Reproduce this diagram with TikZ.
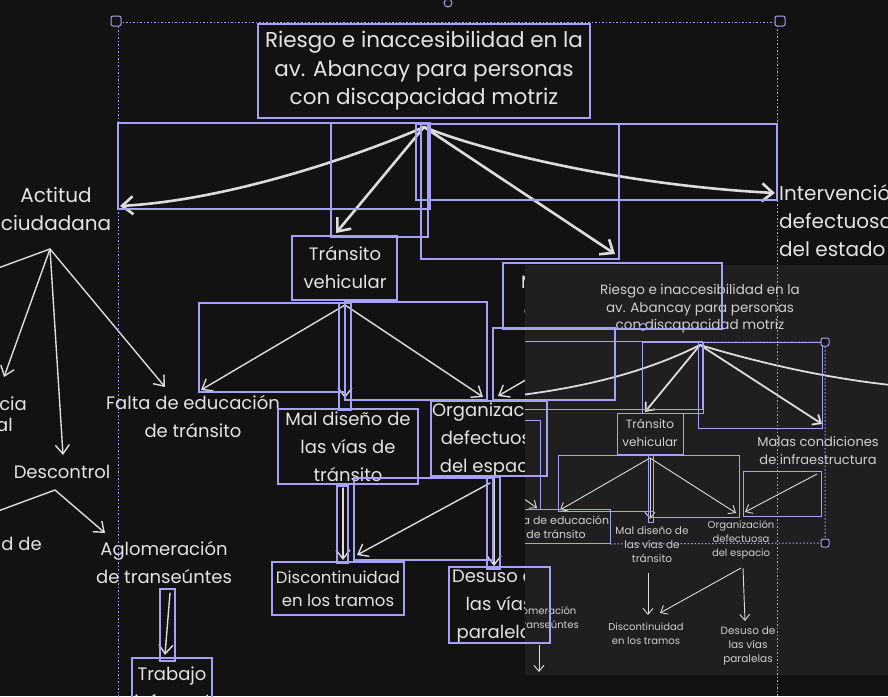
\documentclass[tikz,border=0pt]{standalone}
\usepackage{fontspec}
\setmainfont{Poppins}
\usetikzlibrary{arrows.meta}
\definecolor{bgc}{HTML}{121212}
\definecolor{panelc}{HTML}{1F1F1F}
\definecolor{fgc}{HTML}{E3E3E3}
\definecolor{dimc}{HTML}{CFCFCF}
\definecolor{selc}{HTML}{A5A1F7}
\definecolor{linec}{HTML}{DCDCDC}
\tikzset{
  txt/.style={text=fgc, font=\fontsize{18}{28}\selectfont, align=center, inner sep=0pt
  },
  mini/.style={text=dimc, font=\fontsize{10}{14}\selectfont, align=center, inner sep=0pt
  },
  rect/.style={draw=selc, line width=1.1pt
  },
  minirect/.style={draw=selc, line width=0.8pt
  },
  selline/.style={draw=selc, line width=1pt, dash pattern=on 1.5pt off 2pt
  },
  handle/.style={draw=selc, line width=1pt, fill=bgc, rounded corners=2pt
  },
  bigarr/.style={draw=linec, line width=2.6pt, line cap=round,
    -{Straight Barb[length=11pt,width=18pt]}
  },
  arr/.style={draw=linec, line width=1.4pt, line cap=round,
    -{Straight Barb[length=9pt,width=14pt]}
  },
  miniarr/.style={draw=linec, line width=0.9pt, -{Straight Barb[length=6pt,width=10pt]}
  },
  minibig/.style={draw=linec, line width=1.8pt, -{Straight Barb[length=7pt,width=12pt]}
  }
}

\begin{document}
\begin{tikzpicture}[x=1pt,y=-1pt]
   \useasboundingbox (0,0) rectangle (888,696);
   \fill[bgc] (0,0) rectangle (888,696);
   \clip (0,0) rectangle (888,696);

   \node[txt, font=\fontsize{21.5}{28.5}\selectfont] (riesgo) at (424,71) {Riesgo e inaccesibilidad en la\\av. Abancay para personas\\con discapacidad motriz};
   \node[txt, font=\fontsize{20}{28}\selectfont] (actitud) at (56,209) {Actitud\\ciudadana};
   \node[txt, font=\fontsize{20}{28}\selectfont, align=left, anchor=west] (interv) at (779,221) {Intervención\\defectuosa\\del estado};
   \node[txt] (transito) at (345,268) {Tránsito\\vehicular};
   \node[txt] (malas) at (605,296) {Malas condiciones\\de infraestructura};
   \node[txt] (falta) at (193,416) {Falta de educación\\de tránsito};
   \node[txt] (maldis) at (348,447) {Mal diseño de\\las vías de\\tránsito};
   \node[txt] (organ) at (492,440) {Organización\\defectuosa\\del espacio};
   \node[txt, font=\fontsize{16.5}{23}\selectfont] (discont) at (338,589) {Discontinuidad\\en los tramos};
   \node[txt] (desuso) at (499,606) {Desuso de\\las vías\\paralelas};
   \node[txt] (aglo) at (164,562) {Aglomeración\\de transeúntes};
   \node[txt] (descon) at (62,472) {Descontrol};
   \node[txt] (trabajo) at (172,688) {Trabajo\\informal};
   \node[txt, anchor=east] (fraga) at (27,404) {ncia};
   \node[txt, anchor=east] (fragb) at (13,425) {al};
   \node[txt, anchor=east] (fragc) at (42,544) {ad de};

   \coordinate (rsrc) at (424,127);
   \coordinate (actend) at (120,206);
   \coordinate (intend) at (775,193);
   \coordinate (trend) at (336,233);
   \coordinate (maend) at (615,254);
   \draw[bigarr] (rsrc) .. controls (360,155) and (230,200) .. (actend);
   \draw[bigarr] (rsrc) .. controls (480,150) and (620,185) .. (intend);
   \draw[bigarr] (rsrc) -- (trend);
   \draw[bigarr] (rsrc) -- (maend);

   \coordinate (acsrc) at (50,249);
   \coordinate (acoff) at (-10,271);
   \coordinate (acfr) at (4,377);
   \coordinate (acde) at (63,455);
   \coordinate (acfa) at (165,387);
   \draw[draw=linec, line width=1.4pt] (acsrc) -- (acoff);
   \draw[arr] (acsrc) -- (acfr);
   \draw[arr] (acsrc) -- (acde);
   \draw[arr] (acsrc) -- (acfa);

   \coordinate (dcsrc) at (55,490);
   \coordinate (dcoff) at (-10,514);
   \coordinate (dcag) at (105,533);
   \draw[draw=linec, line width=1.4pt] (dcsrc) -- (dcoff);
   \draw[arr] (dcsrc) -- (dcag);

   \coordinate (agsrc) at (170,593);
   \coordinate (agtr) at (165,655);
   \draw[arr] (agsrc) -- (agtr);

   \coordinate (trsrc) at (345,305);
   \coordinate (trfa) at (201,390);
   \coordinate (trmd) at (345,398);
   \coordinate (tror) at (483,397);
   \draw[arr] (trsrc) -- (trfa);
   \draw[arr] (trsrc) -- (trmd);
   \draw[arr] (trsrc) -- (tror);

   \coordinate (masrc) at (612,330);
   \coordinate (maor) at (498,396);
   \draw[arr] (masrc) -- (maor);

   \coordinate (mdsrc) at (343,488);
   \coordinate (mddi) at (343,560);
   \draw[arr] (mdsrc) -- (mddi);

   \coordinate (orsrc) at (490,483);
   \coordinate (ordi) at (357,555);
   \coordinate (orsrcb) at (494,478);
   \coordinate (orde) at (494,566);
   \draw[arr] (orsrc) -- (ordi);
   \draw[arr] (orsrcb) -- (orde);

   \fill[panelc] (525,265) rectangle (888,675);
   \begin{scope}
   \clip (525,265) rectangle (888,675);
   \node[mini, font=\fontsize{13.5}{17.5}\selectfont] (mriesgo) at (700,309) {Riesgo e inaccesibilidad en la\\av. Abancay para personas\\con discapacidad motriz};
   \node[mini, font=\fontsize{12}{18}\selectfont] (mtrans) at (650,433) {Tránsito\\vehicular};
   \node[mini, font=\fontsize{13}{18}\selectfont] (mmalas) at (818,451) {Malas condiciones\\de infraestructura};
   \node[mini, font=\fontsize{11}{13.5}\selectfont] (mfalta) at (556,527) {Falta de educación\\de tránsito};
   \node[mini, font=\fontsize{10.5}{14}\selectfont] (mmaldis) at (652,545) {Mal diseño de\\las vías de\\tránsito};
   \node[mini] (morgan) at (741,540) {Organización\\defectuosa\\del espacio};
   \node[mini] (mdisc) at (646,634) {Discontinuidad\\en los tramos};
   \node[mini, font=\fontsize{10.5}{14}\selectfont] (mdesuso) at (748,646) {Desuso de\\las vías\\paralelas};
   \node[mini] (maglo) at (541,618) {Aglomeración\\de transeúntes};

   \coordinate (msrc) at (700,345);
   \coordinate (mleft) at (470,400);
   \coordinate (mright) at (900,386);
   \coordinate (mtr) at (645,412);
   \coordinate (mma) at (822,424);
   \draw[draw=linec, line width=1.8pt] (msrc) .. controls (650,370) and (580,392) .. (mleft);
   \draw[draw=linec, line width=1.8pt] (msrc) .. controls (750,360) and (820,378) .. (mright);
   \draw[minibig] (msrc) -- (mtr);
   \draw[minibig] (msrc) -- (mma);

   \coordinate (mtsrc) at (650,458);
   \coordinate (mtfa) at (560,510);
   \coordinate (mtmd) at (650,519);
   \coordinate (mtor) at (736,513);
   \draw[miniarr] (mtsrc) -- (mtfa);
   \draw[miniarr] (mtsrc) -- (mtmd);
   \draw[miniarr] (mtsrc) -- (mtor);

   \coordinate (mmsrc) at (817,474);
   \coordinate (mmor) at (745,512);
   \draw[miniarr] (mmsrc) -- (mmor);
   \coordinate (mxsrc) at (500,482);
   \coordinate (mxfa) at (537,508);
   \draw[miniarr] (mxsrc) -- (mxfa);

   \coordinate (mdsrc) at (648,573);
   \coordinate (mddi) at (648,615);
   \coordinate (mosrc) at (741,568);
   \coordinate (modi) at (660,613);
   \coordinate (mosrcb) at (743,568);
   \coordinate (mode) at (745,621);
   \coordinate (masrcb) at (539,645);
   \coordinate (matr) at (539,672);
   \draw[miniarr] (mdsrc) -- (mddi);
   \draw[miniarr] (mosrc) -- (modi);
   \draw[miniarr] (mosrcb) -- (mode);
   \draw[miniarr] (masrcb) -- (matr);

   \draw[minirect] (480,341) rectangle (702,409);
   \draw[minirect] (642,342) rectangle (703,413);
   \draw[minirect] (698,342) rectangle (822,428);
   \draw[minirect] (617,413) rectangle (683,454);
   \draw[minirect] (558,455) rectangle (653,511);
   \draw[minirect] (648,455) rectangle (739,517);
   \draw[minirect] (648,455) rectangle (653,522);
   \draw[minirect] (743,471) rectangle (821,516);
   \draw[minirect] (480,420) rectangle (540,509);
   \draw[minirect] (480,509) rectangle (610,543);
   \draw[selline] (700,342) -- (825,342) -- (825,543) -- (610,544);
   \end{scope}
   \draw[handle] (821,338) rectangle (829,346);
   \draw[handle] (821,539) rectangle (829,547);
   \draw[handle] (643,327) circle (3.5);

   \draw[rect] (258,24) rectangle (590,118);
   \draw[rect] (118,123) rectangle (430,209);
   \draw[rect] (331,123) rectangle (428,237);
   \draw[rect] (416,124) rectangle (777,200);
   \draw[rect] (421,124) rectangle (619,259);
   \draw[rect] (292,236) rectangle (397,300);
   \draw[rect] (503,263) rectangle (722,329);
   \draw[rect] (199,303) rectangle (345,392);
   \draw[rect] (339,303) rectangle (351,410);
   \draw[rect] (345,302) rectangle (487,400);
   \draw[rect] (493,328) rectangle (615,400);
   \draw[rect] (278,409) rectangle (418,484);
   \draw[rect] (431,401) rectangle (547,476);
   \draw[rect] (337,486) rectangle (348,563);
   \draw[rect] (354,478) rectangle (493,560);
   \draw[rect] (487,477) rectangle (500,569);
   \draw[rect] (272,562) rectangle (404,615);
   \draw[rect] (449,567) rectangle (550,643);
   \draw[rect] (160,589) rectangle (175,661);
   \draw[rect] (132,658) rectangle (212,710);

   \draw[selline] (118,700) -- (118,22) -- (777,22) -- (777,700);
   \draw[handle] (111,16) rectangle (121,26);
   \draw[handle] (775,16) rectangle (785,26);
   \draw[handle] (448,3) circle (4);
\end{tikzpicture}
\end{document}
